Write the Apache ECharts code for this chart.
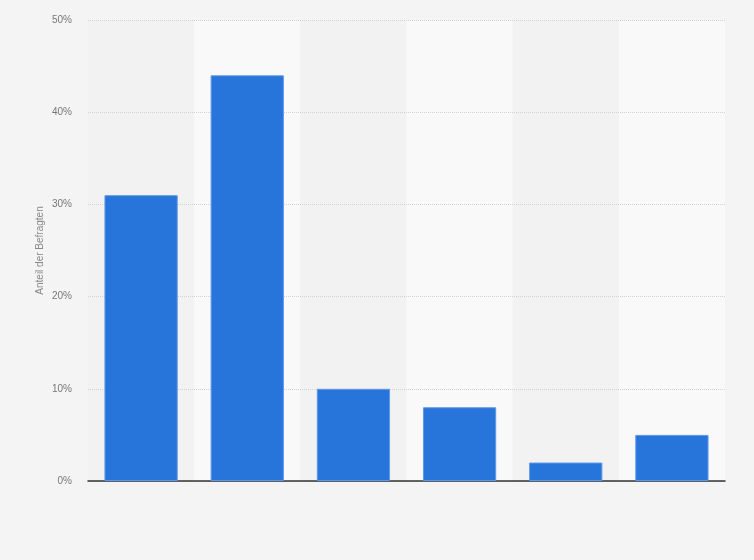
<!DOCTYPE html>
<html>
<head>
<meta charset="utf-8">
<script src="https://cdn.jsdelivr.net/npm/echarts@6/dist/echarts.min.js"></script>
<style>
  html, body { margin: 0; padding: 0; background: #f4f4f4; }
  #chart { width: 754px; height: 560px; }
</style>
</head>
<body>
<div id="chart"></div>
<script>
// Kategorien ohne sichtbare Beschriftung im Original
var categories = ['A', 'B', 'C', 'D', 'E', 'F'];
var values = [31, 44, 10, 8, 2, 5];
var yTicks = [0, 10, 20, 30, 40, 50];

var myChart = echarts.init(document.getElementById('chart'));

var option = {
    backgroundColor: '#f4f4f4',
    animation: false,
    grid: {
        left: 88,
        right: 29,
        top: 20,
        bottom: 79
    },
    xAxis: [{
        type: 'category',
        data: categories,
        z: 2,
        axisLine: { lineStyle: { color: '#333', width: 1.5 } },
        axisTick: { show: false },
        axisLabel: { show: false }
    }, {
        // nur für die Hintergrundstreifen
        type: 'category',
        data: categories,
        z: 0,
        position: 'bottom',
        axisLine: { show: false },
        axisTick: { show: false },
        axisLabel: { show: false },
        splitArea: {
            show: true,
            areaStyle: { color: ['#f2f2f2', '#f9f9f9'] }
        }
    }],
    yAxis: {
        type: 'value',
        z: 1,
        min: yTicks[0],
        max: yTicks[yTicks.length - 1],
        interval: 10,
        name: 'Anteil der Befragten',
        nameLocation: 'middle',
        nameGap: 43,
        nameMoveOverlap: false,
        nameTextStyle: { color: '#888', fontSize: 10, fontFamily: 'Arial, Liberation Sans' },
        axisLine: { show: false },
        axisTick: { show: false },
        axisLabel: {
            color: '#777',
            fontSize: 10,
            margin: 16,
            fontFamily: 'Arial, Liberation Sans',
            formatter: '{value}%'
        },
        splitLine: {
            lineStyle: { color: '#d2d2d2', type: 'dotted', width: 1 }
        }
    },
    series: [{
        type: 'bar',
        xAxisIndex: 0,
        z: 3,
        data: values,
        barWidth: '69%',
        itemStyle: {
            color: '#2775db',
            borderColor: '#5f98e6',
            borderWidth: 1
        }
    }]
};
myChart.setOption(option);
</script>
</body>
</html>
